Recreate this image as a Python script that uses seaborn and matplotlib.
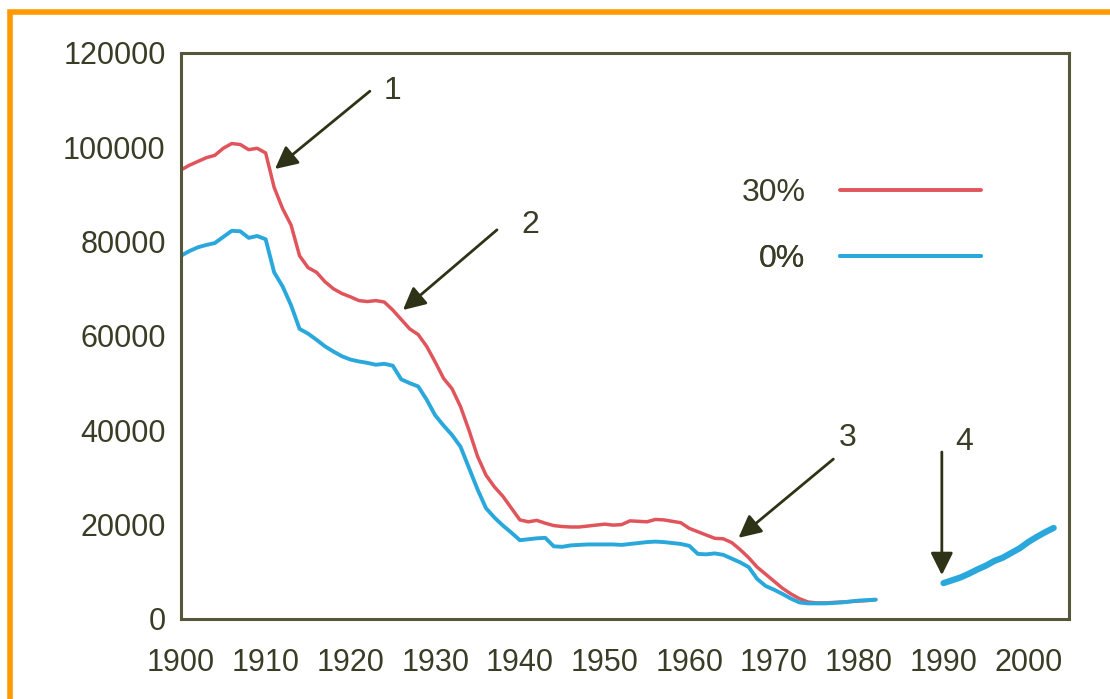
import matplotlib
matplotlib.use('Agg')
import matplotlib.pyplot as plt
import seaborn as sns
from matplotlib.patches import Rectangle
from matplotlib.lines import Line2D

# valores
anos_30 = list(range(1900, 1983))
valores_30 = [95200, 96200, 97000, 97800, 98300, 99800, 100800, 100600, 99500, 99800,
              98800, 91500, 87000, 83500, 77000, 74500, 73500, 71500, 70000, 69000,
              68300, 67500, 67300, 67500, 67200, 65500, 63500, 61500, 60300, 57800,
              54500, 51000, 48800, 45000, 40000, 34500, 30500, 28000, 26000, 23500,
              21000, 20600, 20900, 20300, 19800, 19600, 19500, 19500, 19700, 19900,
              20100, 19900, 20000, 20800, 20700, 20600, 21100, 21000, 20700, 20400,
              19200, 18500, 17800, 17100, 17000, 16200, 14700, 13000, 11000, 9500,
              8000, 6500, 5300, 4300, 3600, 3400, 3400, 3500, 3600, 3700,
              3800, 3900, 4100]

anos_0 = list(range(1900, 1983))
valores_0 = [77000, 78000, 78800, 79300, 79700, 81000, 82300, 82200, 80800, 81200,
             80500, 73500, 70500, 66500, 61500, 60500, 59200, 57800, 56700, 55700,
             55000, 54600, 54300, 53900, 54100, 53700, 50800, 50000, 49300, 46500,
             43200, 41000, 39000, 36500, 32000, 27500, 23500, 21500, 19800, 18300,
             16700, 16900, 17100, 17200, 15400, 15300, 15600, 15700, 15800, 15800,
             15800, 15800, 15700, 15900, 16100, 16300, 16400, 16300, 16100, 15900,
             15500, 13800, 13700, 13900, 13600, 12800, 12000, 11000, 8500, 7000,
             6200, 5300, 4300, 3500, 3300, 3300, 3300, 3400, 3500, 3700,
             3900, 4000, 4100]

anos_0b = list(range(1990, 2004))
valores_0b = [7600, 8200, 8800, 9600, 10500, 11300, 12300, 13000, 14000, 15000,
              16300, 17400, 18400, 19300]

# setas: (texto, ponta, rabo, posicao do numero)
setas = [('1', (1911.1, 95400), (1922.3, 111900), (1925.0, 112000)),
         ('2', (1926.2, 65500), (1937.3, 82500), (1941.2, 83500)),
         ('3', (1965.8, 17200), (1977.0, 33900), (1978.7, 38400)),
         ('4', (1989.8, 9300), (1989.8, 35400), (1992.4, 37500))]

vermelho = '#E0555C'
azul = '#2AA8DC'
texto_cor = '#3A3D26'
eixo_cor = '#55573A'

sns.set_style('white')
plt.rcParams['font.family'] = ['Liberation Sans', 'DejaVu Sans']

fig = plt.figure(figsize=(11.1, 6.99), dpi=100)
ax = fig.add_axes([0.163, 0.1145, 0.8, 0.8097])

sns.lineplot(x=anos_30, y=valores_30, color=vermelho, lw=2.5, sort=False, estimator=None, ax=ax)
sns.lineplot(x=anos_0, y=valores_0, color=azul, lw=2.8, sort=False, estimator=None, ax=ax)
sns.lineplot(x=anos_0b, y=valores_0b, color=azul, lw=4.5, sort=False, estimator=None, ax=ax)

ax.set_xlim(1900, 2004.8)
ax.set_ylim(0, 120000)
ax.set_xticks(range(1900, 2001, 10))
ax.set_yticks(range(0, 120001, 20000))
ax.tick_params(axis='both', direction='in', length=7, width=2, color=eixo_cor,
               labelsize=22, labelcolor=texto_cor)
ax.tick_params(axis='x', pad=21)
ax.tick_params(axis='y', pad=11)
for lado in ax.spines.values():
    lado.set_color(eixo_cor)
    lado.set_linewidth(2.2)
ax.set_xlabel('')
ax.set_ylabel('')

# setas numeradas
for numero, ponta, rabo, pos in setas:
    ax.annotate('', xy=ponta, xytext=rabo,
                arrowprops=dict(arrowstyle='-|>', mutation_scale=34, lw=2,
                                color='#2E3318', shrinkA=0, shrinkB=0))
    ax.text(pos[0], pos[1], numero, fontsize=23, color=texto_cor, ha='center', va='center')

# legenda: duas legendas separadas para alinhar pela direita
for rotulo, cor, y in [('30%', vermelho, 0.753), ('0%', azul, 0.636)]:
    h = Line2D([], [], color=cor, lw=2.8)
    leg = ax.legend(handles=[h], labels=[rotulo], loc='center right',
                    bbox_to_anchor=(0.901, y), frameon=False, markerfirst=False,
                    handlelength=4.4, handletextpad=1.1, borderpad=0, borderaxespad=0,
                    fontsize=23, labelcolor=texto_cor)
    ax.add_artist(leg)

# moldura laranja
fig.patches.append(Rectangle((0.0086, -0.2), 1.5, 1.183, fill=False, edgecolor='#FF9900',
                             lw=4, transform=fig.transFigure, figure=fig))

fig.savefig('out.png', dpi=100)
